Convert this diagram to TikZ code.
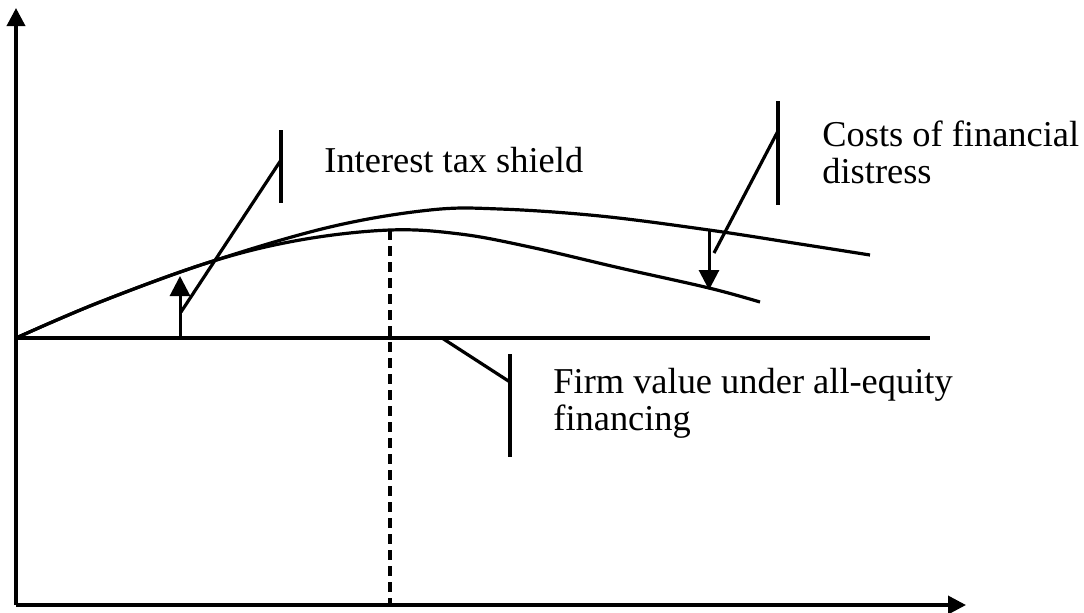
\documentclass[tikz,border=0pt]{standalone}
\usepackage{fontspec}
\setmainfont{Liberation Serif}
\usetikzlibrary{arrows.meta}
\begin{document}
\begin{tikzpicture}[x=0.5pt,y=-0.5pt,
  ln/.style={line width=1.6pt,black},
  axis/.style={line width=1.8pt,black,-{Triangle[length=9pt,width=9pt]}},
  tip/.style={line width=1.5pt,black,-{Triangle[length=10pt,width=10pt]}},
  lbl/.style={anchor=base west,inner sep=0pt,font=\fontsize{18.2}{18.5}\selectfont,align=left}]
\useasboundingbox (0,0) rectangle (1084,612);
% axes
\coordinate (O) at (16,605);
\coordinate (ytop) at (16,8);
\coordinate (xend) at (966,605);
\draw[axis] (O) -- (ytop);
\draw[axis] (O) -- (xend);
% all-equity line
\coordinate (e0) at (16,338);
\coordinate (e1) at (930,338);
\draw[ln] (e0) -- (e1);
% curves
\draw[ln] plot[smooth,tension=0.6] coordinates {(16,338) (100,302) (210,262) (330,227) (430,210) (500,209) (600,216) (709,230) (800,244) (870,255)};
\draw[ln] plot[smooth,tension=0.6] coordinates {(16,338) (100,302) (210,262) (300,240) (390,230) (460,234) (530,247) (620,268) (709,288) (760,302)};
% dashed optimum
\coordinate (d0) at (390,230);
\coordinate (d1) at (390,605);
\draw[ln,dash pattern=on 5pt off 3pt] (d0) -- (d1);
% arrows
\coordinate (a0) at (180,338);
\coordinate (a1) at (180,276);
\draw[tip] (a0) -- (a1);
\coordinate (b0) at (709,230);
\coordinate (b1) at (709,290);
\draw[tip] (b0) -- (b1);
% leader: interest tax shield
\coordinate (t0) at (281,130);
\coordinate (t1) at (281,203);
\coordinate (tm) at (281,160);
\coordinate (te) at (181,312);
\draw[ln] (t0) -- (t1);
\draw[ln] (tm) -- (te);
% leader: costs of financial distress
\coordinate (c0) at (778,101);
\coordinate (c1) at (778,205);
\coordinate (cm) at (778,131);
\coordinate (ce) at (714,253);
\draw[ln] (c0) -- (c1);
\draw[ln] (cm) -- (ce);
% leader: firm value
\coordinate (f0) at (510,354);
\coordinate (f1) at (510,457);
\coordinate (fm) at (510,382);
\coordinate (fe) at (442,338);
\draw[ln] (f0) -- (f1);
\draw[ln] (fm) -- (fe);
% labels (base anchor = last line)
\node[lbl] (tlab) at (324,172) {Interest tax shield};
\node[lbl] (clab) at (822,183) {Costs of financial\\[0pt]distress};
\node[lbl] (flab) at (553,430) {Firm value under all-equity\\[0pt]financing};
\end{tikzpicture}
\end{document}
